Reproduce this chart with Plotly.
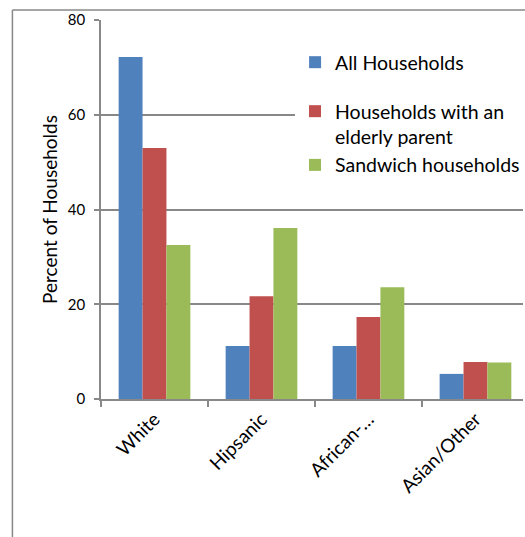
import plotly.graph_objects as go

categories = ["White", "Hipsanic", "African-…", "Asian/Other"]
all_households = [72.2, 11.2, 11.2, 5.3]
elderly_parent = [53.0, 21.7, 17.3, 7.8]
sandwich = [32.5, 36.1, 23.6, 7.7]
series_names = ["All Households", "Households with an<br>elderly parent", "Sandwich households"]
colors = ["#4F81BD", "#C0504D", "#9BBB59"]
y_ticks = [0, 20, 40, 60, 80]

FONT = "Lato"
GRID = "#888888"
TXT = "#000000"

fig = go.Figure()
for name, vals, col, lg in zip(series_names, [all_households, elderly_parent, sandwich], colors,
                               ["legend", "legend2", "legend2"]):
    fig.add_trace(go.Bar(x=categories, y=vals, name=name, marker_color=col,
                         marker_line_width=0, legend=lg, showlegend=True))

W, H = 525, 537
L, R, T, B = 101, 0, 20, 138
pw = W - L - R
ph = H - T - B
cat_px = 107.5

def py(ypix):
    return (H - B - ypix) / ph

LX = (296 - L) / pw
fig.update_layout(
    width=W, height=H,
    margin=dict(l=L, r=R, t=T, b=B, pad=0),
    paper_bgcolor="white", plot_bgcolor="white",
    barmode="group", bargap=0.33, bargroupgap=0,
    showlegend=True,
    font=dict(family=FONT, color=TXT, size=16),
    legend=dict(visible=True, x=LX, y=py(43), xanchor="left", yanchor="top",
                bgcolor="white", borderwidth=0, font=dict(size=19.5, family=FONT, color=TXT),
                valign="top"),
    legend2=dict(visible=True, x=LX, y=py(92), xanchor="left", yanchor="top",
                 bgcolor="white", borderwidth=0, font=dict(size=19.5, family=FONT, color=TXT),
                 valign="top", tracegroupgap=0),
)
fig.update_xaxes(
    type="category", range=[-0.5, -0.5 + pw / cat_px],
    showline=True, linecolor=GRID, linewidth=1.5,
    ticks="outside", tickson="boundaries", ticklen=6, tickwidth=1.5, tickcolor=GRID,
    tickangle=-45, tickfont=dict(size=19, family=FONT, color=TXT),
    showgrid=False, zeroline=False,
)
fig.update_yaxes(
    range=[0, 80], tickvals=y_ticks,
    showline=True, linecolor=GRID, linewidth=1.5,
    ticks="outside", ticklen=5, tickwidth=1.5, tickcolor=GRID,
    ticklabelstandoff=6,
    tickfont=dict(size=15, family=FONT, color=TXT),
    showgrid=True, gridcolor=GRID, gridwidth=1.5, zeroline=False,
    title=dict(text="Percent of Households", font=dict(size=19, family=FONT, color=TXT), standoff=5),
)

# outer chart-area border (left and top edges visible)
bx = (12 - L) / pw
by = py(10)
fig.add_shape(type="line", xref="paper", yref="paper", x0=bx, x1=bx, y0=by, y1=py(H + 5),
              line=dict(color=GRID, width=1.5))
fig.add_shape(type="line", xref="paper", yref="paper", x0=bx, x1=1.05, y0=by, y1=by,
              line=dict(color=GRID, width=1.5))

fig.write_html("out.html")
